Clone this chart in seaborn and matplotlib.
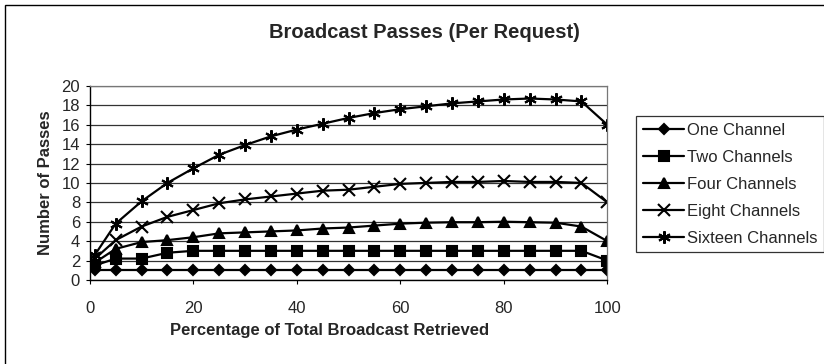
import matplotlib
matplotlib.use("Agg")
import matplotlib.pyplot as plt
import seaborn as sns
import pandas as pd

# Percentage of the broadcast retrieved
pct = [1, 5, 10, 15, 20, 25, 30, 35, 40, 45, 50, 55, 60, 65, 70, 75, 80, 85, 90, 95, 100]

one_channel = [1.0] * 21
two_channels = [1.5, 2.2, 2.2, 2.8, 3.0, 3.0, 3.0, 3.0, 3.0, 3.0, 3.0, 3.0, 3.0, 3.0,
                3.0, 3.0, 3.0, 3.0, 3.0, 3.0, 2.0]
four_channels = [1.8, 3.2, 3.9, 4.1, 4.4, 4.8, 4.9, 5.0, 5.1, 5.3, 5.4, 5.6, 5.8, 5.9,
                 5.95, 5.95, 6.0, 5.95, 5.9, 5.5, 4.0]
eight_channels = [2.2, 4.1, 5.5, 6.5, 7.2, 7.9, 8.3, 8.6, 8.9, 9.2, 9.3, 9.6, 9.9, 10.0,
                  10.1, 10.1, 10.2, 10.1, 10.1, 10.0, 8.0]
sixteen_channels = [2.6, 5.8, 8.1, 10.0, 11.5, 12.9, 13.9, 14.8, 15.5, 16.1, 16.7, 17.2,
                    17.6, 17.9, 18.2, 18.4, 18.6, 18.7, 18.6, 18.4, 16.0]

series_names = ["One Channel", "Two Channels", "Four Channels", "Eight Channels",
                "Sixteen Channels"]
series_values = [one_channel, two_channels, four_channels, eight_channels, sixteen_channels]

x_ticks = [0, 20, 40, 60, 80, 100]
y_ticks = [0, 2, 4, 6, 8, 10, 12, 14, 16, 18, 20]

df = pd.DataFrame(
    [(p, v, name) for name, vals in zip(series_names, series_values) for p, v in zip(pct, vals)],
    columns=["pct", "passes", "series"],
)

sns.set_style("white")
plt.rcParams["font.family"] = ["Liberation Sans", "DejaVu Sans"]

fig = plt.figure(figsize=(8.24, 3.64), dpi=100)
ax = fig.add_axes([0.109, 0.231, 0.628, 0.533])

markers = {
    "One Channel": "D",
    "Two Channels": "s",
    "Four Channels": "^",
    "Eight Channels": "x",
    "Sixteen Channels": (6, 2, 0),
}
sizes = {"One Channel": 5, "Two Channels": 6.5, "Four Channels": 7,
         "Eight Channels": 8, "Sixteen Channels": 9}

for name in series_names:
    sub = df[df["series"] == name]
    sns.lineplot(data=sub, x="pct", y="passes", ax=ax, color="black", linewidth=1.6,
                 marker=markers[name], markersize=sizes[name], markeredgewidth=1.5,
                 markerfacecolor="black", markeredgecolor="black", label=name,
                 legend=False)

ax.set_xlim(0, 100)
ax.set_ylim(0, 20)
ax.set_xticks(x_ticks)
ax.set_yticks(y_ticks)
ax.tick_params(axis="both", labelsize=12, length=3, direction="out",
               left=True, bottom=True, color="black", pad=4)
ax.tick_params(axis="x", pad=12)
ax.yaxis.grid(True, color="#333333", linewidth=0.9)
ax.xaxis.grid(False)
for side in ["left", "bottom"]:
    ax.spines[side].set_color("black")
    ax.spines[side].set_linewidth(1.0)
for side in ["top", "right"]:
    ax.spines[side].set_color("#777777")
    ax.spines[side].set_linewidth(0.9)

ax.set_xlabel("")
ax.set_ylabel("Number of Passes", fontsize=12, fontweight="bold", labelpad=6)
fig.text(330 / 824, 1 - 331 / 364, "Percentage of Total Broadcast Retrieved",
         ha="center", va="center", fontsize=12, fontweight="bold")
fig.text(424 / 824, 1 - 32 / 364, "Broadcast Passes (Per Request)", ha="center",
         va="center", fontsize=14.5, fontweight="bold")

handles, labels = ax.get_legend_handles_labels()
leg = fig.legend(handles, labels, loc="upper left", bbox_to_anchor=(636 / 824, 1 - 116 / 364),
                 fontsize=12, frameon=True, fancybox=False, edgecolor="black",
                 handlelength=2.5, handletextpad=0.15, borderpad=0.4,
                 labelspacing=0.72, borderaxespad=0)
leg.get_frame().set_linewidth(0.9)

# outer chart border
fig.patches.append(plt.Rectangle((0.006, -0.05), 1.2, 1.036, transform=fig.transFigure,
                                 fill=False, edgecolor="black", linewidth=1.0))

fig.savefig("out.png", dpi=100, facecolor="white")
